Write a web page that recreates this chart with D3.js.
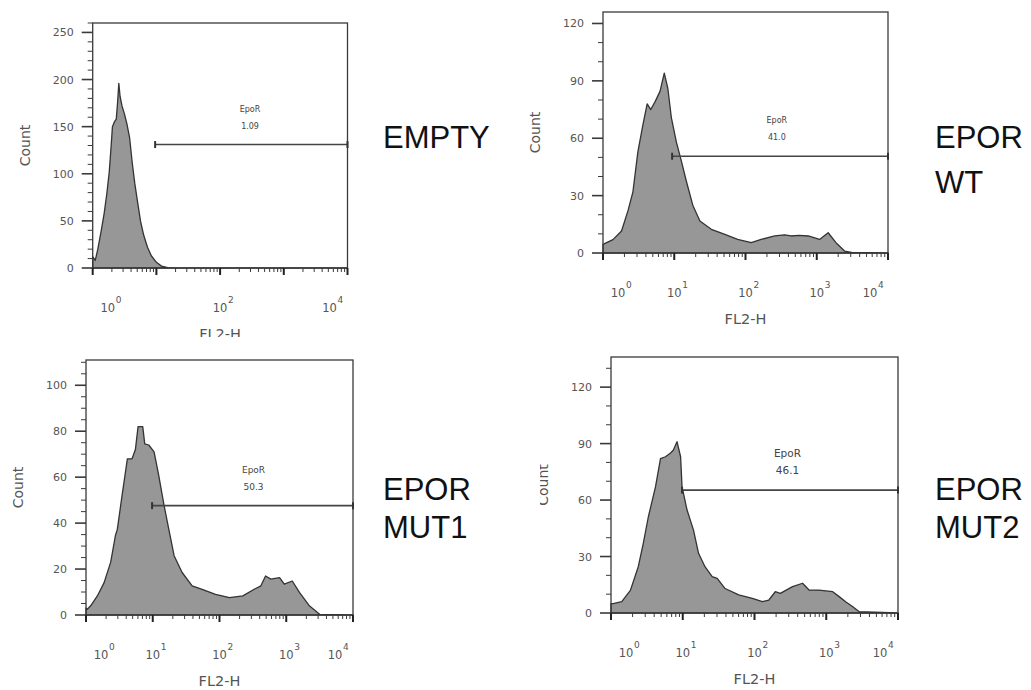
<!DOCTYPE html>
<html><head><meta charset="utf-8">
<script src="https://cdn.jsdelivr.net/npm/d3@7"></script>
<style>body{margin:0;background:#fff}svg{display:block}</style>
</head><body><svg id="c" width="1031" height="690"></svg>
<script>
// ---------------- data ----------------
// FL2-H given as log10 exponent, Count as events per bin
const emptyLogFL2 = [0,0.04,0.08,0.13,0.18,0.22,0.26,0.29,0.31,0.34,0.37,0.39,0.41,0.43,0.46,0.5,0.54,0.58,0.62,0.66,0.7,0.75,0.8,0.86,0.92,1.0,1.08,1.18,1.3,4];
const emptyCount  = [12,8,20,38,58,78,102,130,150,155,158,175,196,182,172,163,152,138,112,90,72,50,35,22,13,6,2,0.5,0,0];

const wtLogFL2 = [0,0.14,0.26,0.35,0.42,0.49,0.56,0.62,0.67,0.73,0.8,0.86,0.91,0.96,1.03,1.1,1.17,1.26,1.36,1.52,1.71,1.89,2.08,2.22,2.41,2.55,2.64,2.75,2.88,3.04,3.16,3.27,3.39,3.49,4];
const wtCount  = [4.5,7,11.5,22,32,53,67,78,75,79,84.5,94,86,70.6,58,48,37.5,25,16.7,12.4,9.7,7.1,5.4,7.1,8.9,9.5,8.9,9.2,8.9,7.1,10.6,5.4,1,0.3,0];

const mut1LogFL2 = [0,0.02,0.07,0.17,0.27,0.37,0.44,0.47,0.54,0.62,0.69,0.74,0.78,0.85,0.88,0.94,1.02,1.09,1.17,1.24,1.32,1.44,1.59,1.74,1.94,2.15,2.35,2.52,2.62,2.69,2.77,2.9,2.97,3.09,3.2,3.35,3.5,4];
const mut1Count  = [3,2.5,4,8.3,14,23,34.5,37.4,52,68,68,72,82,82,74.5,74,71,60.7,47.6,37.4,25.8,18.5,12.7,11.2,9,7.6,8.3,11.2,12.7,17,15.6,16.3,13.4,14.8,9.7,3.9,0.3,0];

const mut2LogFL2 = [0,0.03,0.15,0.27,0.38,0.45,0.52,0.62,0.69,0.76,0.83,0.87,0.92,0.97,0.99,1.06,1.15,1.22,1.31,1.41,1.48,1.59,1.78,1.97,2.11,2.2,2.29,2.36,2.53,2.67,2.76,2.9,3.09,3.18,3.27,3.37,3.46,4];
const mut2Count  = [5,5,6,12,24.6,37,51,67,82,83,85,86.6,91,83,67,54.7,44,31.7,24.6,19.3,18.4,13,9.6,7.8,6,6.9,11.3,10.4,14,15.8,12.2,12.2,11.3,8.7,6,3.3,0.7,0];

const sampleNames   = [["EMPTY"],["EPOR","WT"],["EPOR","MUT1"],["EPOR","MUT2"]];
const gateName      = "EpoR";
const gatePercent   = ["1.09","41.0","50.3","46.1"];
const gateLogStart  = [0.98,0.97,0.99,0.99];
const gateCount     = [131,50.6,47.6,65.3];
const gateLabelLog  = [2.47,2.44,2.51,2.46];

const yMax        = [260,126,111,136];
const yTicks      = [[0,50,100,150,200,250],[0,30,60,90,120],[0,20,40,60,80,100],[0,30,60,90,120]];
const yMinorStep  = [10,10,5,10];
const xDecades    = [1,10,100,1000,10000];
const xDecadeExp  = ["0","1","2","3","4"];
const xLabelShown = [[true,false,true,false,true],[true,true,true,true,true],[true,true,true,true,true],[true,true,true,true,true]];
const xTitle = "FL2-H", yTitle = "Count";

const series = [
  {fl2: emptyLogFL2, count: emptyCount},
  {fl2: wtLogFL2,    count: wtCount},
  {fl2: mut1LogFL2,  count: mut1Count},
  {fl2: mut2LogFL2,  count: mut2Count}
];

// ---------------- layout / style ----------------
const layout = [
  {l:92.7,t:23, r:347.5,b:268, clip:[0,0,1031,337],  nameX:383, nameY:[148],     gateFs:8},
  {l:603, t:12, r:888,  b:253, clip:null,             nameX:935, nameY:[148,193], gateFs:8},
  {l:86,  t:360,r:353,  b:615, clip:null,             nameX:383, nameY:[500,538], gateFs:9},
  {l:611, t:357,r:898,  b:613, clip:[540,345,500,345],nameX:935, nameY:[500,538], gateFs:10.5}
];
const AX = "#3a3a3a", TXT = "#555", FILL = "#979797";
const FONT = "DejaVu Sans";

const svg = d3.select("#c");
const defs = svg.append("defs");

series.forEach((s, i) => {
  const L = layout[i];
  const x = d3.scaleLog().domain([1, 1e4]).range([L.l, L.r]);
  const y = d3.scaleLinear().domain([0, yMax[i]]).range([L.b, L.t]);
  const g = svg.append("g");

  // histogram
  const pts = s.fl2.map((u, k) => [Math.pow(10, u), s.count[k]]);
  g.append("path").datum(pts)
    .attr("d", d3.area().x(d => x(d[0])).y0(y(0)).y1(d => y(d[1])))
    .attr("fill", FILL).attr("stroke", "#333").attr("stroke-width", 1.3)
    .attr("stroke-linejoin", "round");

  // box
  g.append("rect").attr("x", L.l).attr("y", L.t).attr("width", L.r - L.l).attr("height", L.b - L.t)
    .attr("fill", "none").attr("stroke", AX).attr("stroke-width", 1.3);

  // y axis ticks
  const minor = d3.range(0, yMax[i] + 0.001, yMinorStep[i]).filter(v => !yTicks[i].includes(v));
  g.selectAll(null).data(minor).enter().append("line")
    .attr("x1", L.l - 5).attr("x2", L.l).attr("y1", d => y(d)).attr("y2", d => y(d))
    .attr("stroke", AX).attr("stroke-width", 1);
  g.selectAll(null).data(yTicks[i]).enter().append("line")
    .attr("x1", L.l - 11).attr("x2", L.l).attr("y1", d => y(d)).attr("y2", d => y(d))
    .attr("stroke", AX).attr("stroke-width", 1.6);
  g.selectAll(null).data(yTicks[i]).enter().append("text")
    .attr("x", L.l - 19).attr("y", d => y(d) + 4)
    .attr("text-anchor", "end").attr("font-family", FONT).attr("font-size", 11).attr("fill", TXT)
    .text(d => d);

  // x axis ticks
  const minorX = [];
  for (let d = 0; d < 4; d++) for (let k = 2; k <= 9; k++) minorX.push(k * Math.pow(10, d));
  g.selectAll(null).data(minorX).enter().append("line")
    .attr("x1", d => x(d)).attr("x2", d => x(d)).attr("y1", L.b).attr("y2", L.b + 4)
    .attr("stroke", AX).attr("stroke-width", 1);
  g.selectAll(null).data(xDecades).enter().append("line")
    .attr("x1", d => x(d)).attr("x2", d => x(d)).attr("y1", L.b).attr("y2", L.b + 7)
    .attr("stroke", "#222").attr("stroke-width", 2);

  xDecades.forEach((d, k) => {
    if (!xLabelShown[i][k]) return;
    let cx = x(d);
    if (k === 0) cx += 15;
    if (k === xDecades.length - 1) cx -= 18;
    g.append("text").attr("x", cx).attr("y", L.b + 44).attr("text-anchor", "middle")
      .attr("font-family", FONT).attr("font-size", 11.5).attr("fill", TXT).text("10");
    g.append("text").attr("x", cx + 8).attr("y", L.b + 35).attr("text-anchor", "start")
      .attr("font-family", FONT).attr("font-size", 9).attr("fill", TXT).text(xDecadeExp[k]);
  });

  // gate
  const gy = y(gateCount[i]);
  const gx1 = x(Math.pow(10, gateLogStart[i])), gx2 = x(1e4);
  g.append("line").attr("x1", gx1).attr("x2", gx2).attr("y1", gy).attr("y2", gy)
    .attr("stroke", "#444").attr("stroke-width", 1.6);
  [gx1, gx2].forEach(px => g.append("line").attr("x1", px).attr("x2", px)
    .attr("y1", gy - 3.5).attr("y2", gy + 3.5).attr("stroke", "#333").attr("stroke-width", 2));
  const lx = x(Math.pow(10, gateLabelLog[i]));
  g.append("text").attr("x", lx).attr("y", gy - 33).attr("text-anchor", "middle")
    .attr("font-family", FONT).attr("font-size", L.gateFs).attr("fill", "#444").text(gateName);
  g.append("text").attr("x", lx).attr("y", gy - 16).attr("text-anchor", "middle")
    .attr("font-family", FONT).attr("font-size", L.gateFs).attr("fill", "#444").text(gatePercent[i]);

  // axis titles (clipped where the montage cut them)
  const tg = g.append("g");
  if (L.clip) {
    const id = "clip" + i;
    defs.append("clipPath").attr("id", id).append("rect")
      .attr("x", L.clip[0]).attr("y", L.clip[1]).attr("width", L.clip[2]).attr("height", L.clip[3]);
    tg.attr("clip-path", `url(#${id})`);
  }
  tg.append("text").attr("x", (L.l + L.r) / 2).attr("y", L.b + 71).attr("text-anchor", "middle")
    .attr("font-family", FONT).attr("font-size", 14.5).attr("fill", TXT).text(xTitle);
  const cy = (L.t + L.b) / 2, cxx = L.l - 68;
  tg.append("text").attr("transform", `translate(${cxx},${cy}) rotate(-90)`)
    .attr("text-anchor", "middle").attr("dy", "0.35em")
    .attr("font-family", FONT).attr("font-size", 14).attr("fill", TXT).text(yTitle);

  // sample name
  sampleNames[i].forEach((t, k) => {
    svg.append("text").attr("x", L.nameX).attr("y", L.nameY[k])
      .attr("font-family", "Liberation Sans").attr("font-size", 31).attr("fill", "#111").text(t);
  });
});
</script>
</body></html>
